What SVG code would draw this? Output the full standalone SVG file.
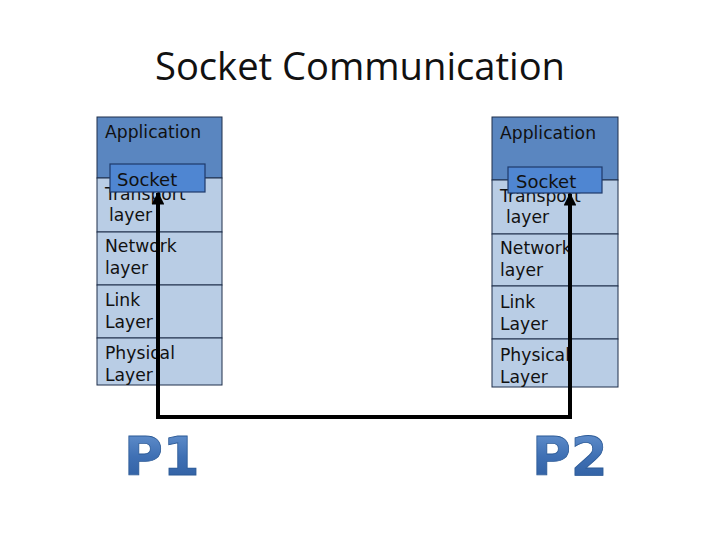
<svg xmlns="http://www.w3.org/2000/svg" width="720" height="540" viewBox="0 0 720 540">
<defs>
<style>
.app{fill:#5A86C0;stroke:#1E2E4A;stroke-width:1}
.lay{fill:#B9CDE5;stroke:#1E2E4A;stroke-width:1}
.sock{fill:#4F86D2;stroke:#1E3A6A;stroke-width:1.2}
.t{font-family:"DejaVu Sans",Verdana,sans-serif;font-size:17.2px;fill:#111}
.s{font-family:"DejaVu Sans",Verdana,sans-serif;font-size:18px;fill:#111}
.title{font-family:"Open Sans","Liberation Sans",sans-serif;font-size:38px;fill:#111}
.big{font-family:"DejaVu Sans","Liberation Sans",sans-serif;font-weight:900;font-size:53px;fill:url(#pg);stroke:#2C5A96;stroke-width:0.8}
.wire{fill:none;stroke:#000;stroke-width:4}
</style>
<linearGradient id="pg" x1="0" y1="0" x2="0" y2="1">
<stop offset="0" stop-color="#6A97D2"/>
<stop offset="0.5" stop-color="#3F70B4"/>
<stop offset="1" stop-color="#2D5C9E"/>
</linearGradient>
<marker id="ah" viewBox="0 0 10 10" refX="9" refY="5" markerWidth="3.2" markerHeight="3.2" orient="auto">
<path d="M0,0 L10,5 L0,10 z" fill="#000"/>
</marker>
</defs>
<rect width="720" height="540" fill="#fff"/>
<text class="title" x="360" y="80" text-anchor="middle" textLength="410" lengthAdjust="spacingAndGlyphs">Socket Communication</text>

<g id="left-stack">
<rect class="app" x="97" y="117" width="125" height="61"/>
<text class="t" x="105" y="138">Application</text>
<rect class="lay" x="97" y="178" width="125" height="54"/>
<text class="t" x="105" y="200">Transport</text>
<text class="t" x="109" y="221">layer</text>
<rect class="lay" x="97" y="232" width="125" height="53"/>
<text class="t" x="105" y="252">Network</text>
<text class="t" x="105" y="274">layer</text>
<rect class="lay" x="97" y="285" width="125" height="53"/>
<text class="t" x="105" y="306">Link</text>
<text class="t" x="105" y="328">Layer</text>
<rect class="lay" x="97" y="338" width="125" height="47"/>
<text class="t" x="105" y="359">Physical</text>
<text class="t" x="105" y="381">Layer</text>
</g>
<g id="left-socket">
<rect class="sock" x="110" y="164" width="95" height="28"/>
<text class="s" x="117" y="186">Socket</text>
</g>

<g id="right-stack">
<rect class="app" x="492" y="117" width="126" height="63"/>
<text class="t" x="500" y="139">Application</text>
<rect class="lay" x="492" y="180" width="126" height="54"/>
<text class="t" x="500" y="202">Transport</text>
<text class="t" x="506" y="223">layer</text>
<rect class="lay" x="492" y="234" width="126" height="52"/>
<text class="t" x="500" y="254">Network</text>
<text class="t" x="500" y="276">layer</text>
<rect class="lay" x="492" y="286" width="126" height="53"/>
<text class="t" x="500" y="308">Link</text>
<text class="t" x="500" y="330">Layer</text>
<rect class="lay" x="492" y="339" width="126" height="48"/>
<text class="t" x="500" y="361">Physical</text>
<text class="t" x="500" y="383">Layer</text>
</g>
<g id="right-socket">
<rect class="sock" x="508" y="167" width="94" height="26"/>
<text class="s" x="516" y="188">Socket</text>
</g>

<g id="connectors">
<path class="wire" d="M158,417 L158,193" marker-end="url(#ah)"/>
<path class="wire" d="M156,417 L570,417 L570,194" marker-end="url(#ah)"/>
</g>

<g id="p1"><text class="big" x="124" y="475">P1</text></g>
<g id="p2"><text class="big" x="532" y="475">P2</text></g>
</svg>
